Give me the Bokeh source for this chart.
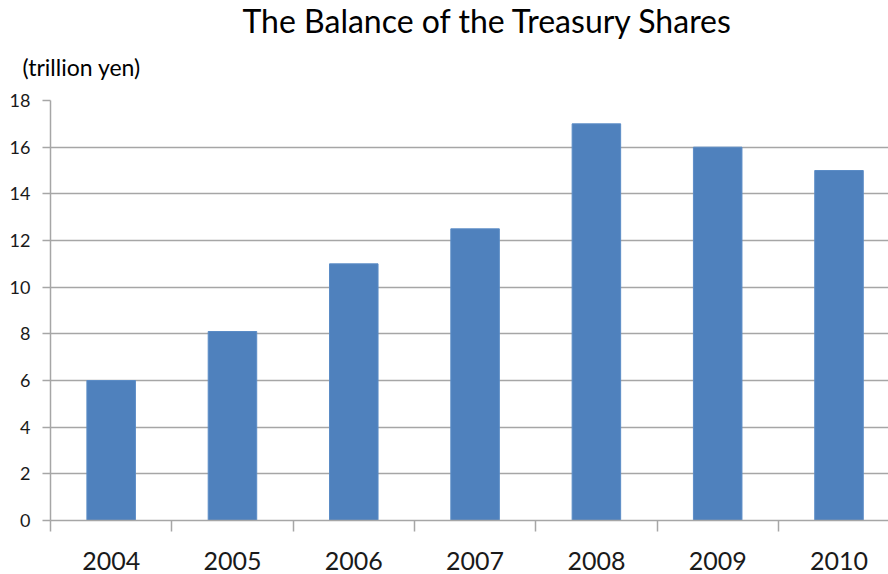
from bokeh.plotting import figure
from bokeh.models import Range1d, FixedTicker, Title
from bokeh.embed import file_html
from bokeh.resources import INLINE

years = ["2004", "2005", "2006", "2007", "2008", "2009", "2010"]
balance = [6.0, 8.1, 11.0, 12.5, 17.0, 16.0, 15.0]
y_ticks = [0, 2, 4, 6, 8, 10, 12, 14, 16, 18]
unit_text = "(trillion yen)"

xs = list(range(1, len(years) + 1))
FONT = "Lato"
GRID = "#a6a6a6"

p = figure(width=888, height=574, output_backend="svg", toolbar_location=None,
           x_range=Range1d(0.5, 7.408), y_range=Range1d(0, 18),
           min_border_left=50, min_border_right=0, min_border_top=100, min_border_bottom=54)

p.vbar(x=xs, top=balance, width=0.4, fill_color="#4f81bd", line_color="#5b8cc6", line_width=1)

p.title.text = "The Balance of the Treasury Shares"
p.title.text_font = FONT
p.title.text_font_size = "32px"
p.title.text_font_style = "normal"
p.title.text_color = "#000000"
p.title.align = "left"
p.title.offset = 192
p.title.standoff = -16

sub = Title(text=unit_text, text_font=FONT, text_font_size="23px",
            text_font_style="normal", text_color="#000000", align="left", offset=-28,
            standoff=39)
p.add_layout(sub, "above")

p.outline_line_color = None
p.xgrid.grid_line_color = None
p.ygrid.grid_line_color = GRID
p.ygrid.grid_line_width = 1.5
p.ygrid.ticker = FixedTicker(ticks=y_ticks)

# y axis
p.yaxis.ticker = FixedTicker(ticks=y_ticks)
p.yaxis.axis_line_color = GRID
p.yaxis.axis_line_width = 1.5
p.yaxis.major_tick_line_color = GRID
p.yaxis.major_tick_line_width = 1.5
p.yaxis.major_tick_out = 8
p.yaxis.major_tick_in = 0
p.yaxis.minor_tick_line_color = None
p.yaxis.major_label_text_font = FONT
p.yaxis.major_label_text_font_size = "18px"
p.yaxis.major_label_text_color = "#1a1a1a"
p.yaxis.major_label_standoff = 12

# x axis
p.xaxis.ticker = FixedTicker(ticks=xs, minor_ticks=[x - 0.5 for x in xs] + [len(xs) + 0.5])
p.xaxis.major_label_overrides = {x: y for x, y in zip(xs, years)}
p.xaxis.axis_line_color = GRID
p.xaxis.axis_line_width = 1.5
p.xaxis.major_tick_line_color = None
p.xaxis.major_tick_out = 0
p.xaxis.major_tick_in = 0
p.xaxis.minor_tick_line_color = GRID
p.xaxis.minor_tick_line_width = 1.5
p.xaxis.minor_tick_out = 11
p.xaxis.minor_tick_in = 0
p.xaxis.major_label_text_font = FONT
p.xaxis.major_label_text_font_size = "25px"
p.xaxis.major_label_text_color = "#1a1a1a"
p.xaxis.major_label_standoff = 20

open("out.html", "w").write(file_html(p, INLINE))
